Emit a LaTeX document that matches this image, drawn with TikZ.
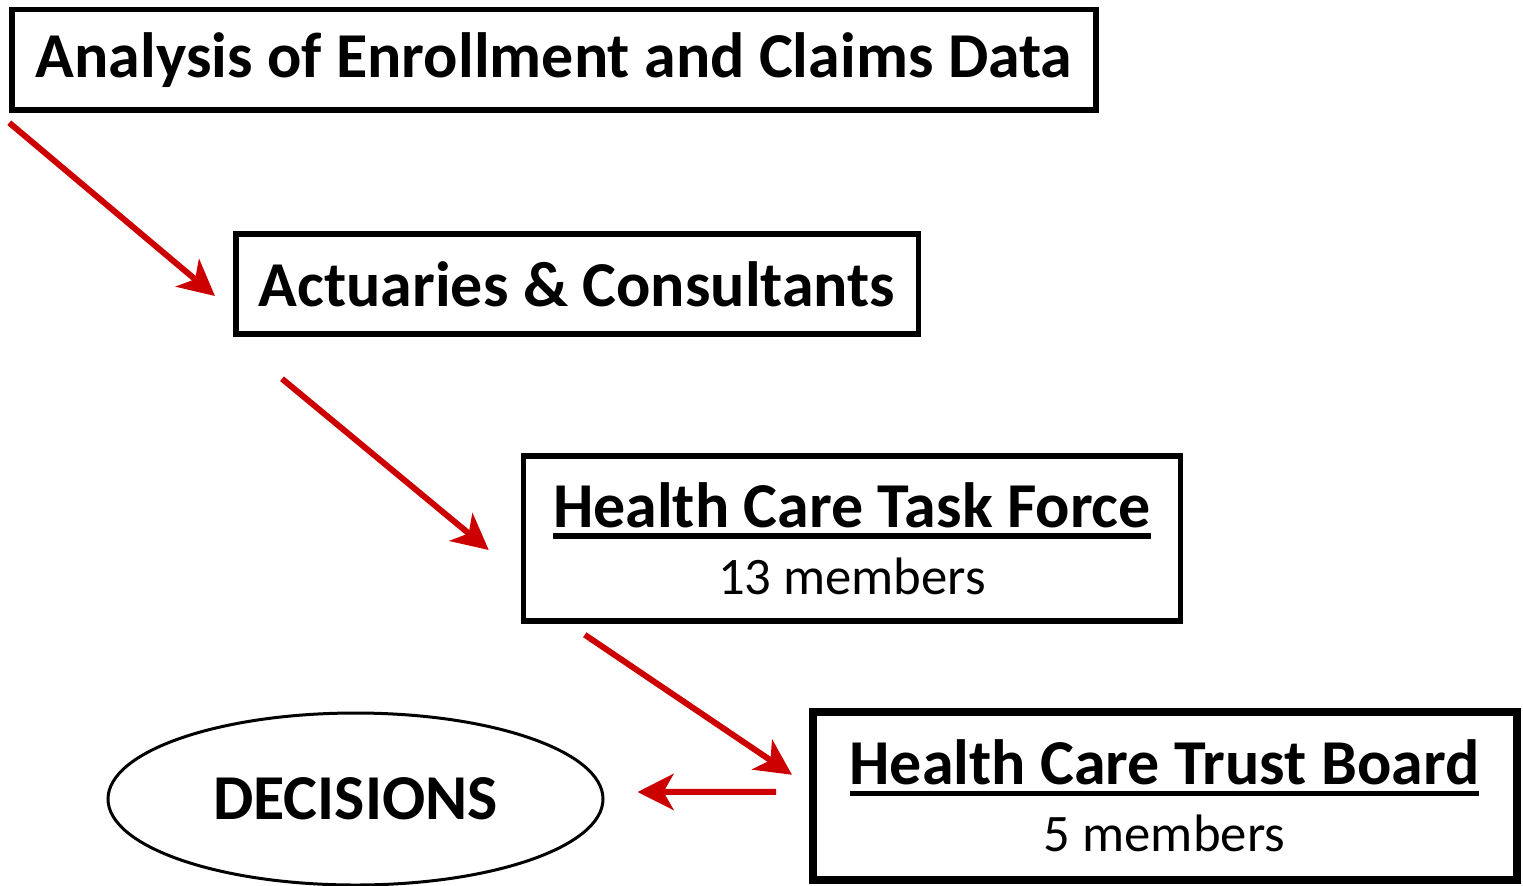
\documentclass[tikz,border=0pt]{standalone}
\usepackage{fontspec}
\setmainfont{Carlito}
\usetikzlibrary{arrows.meta,shapes.geometric,positioning}
\definecolor{arrowred}{RGB}{204,0,0}

\newsavebox{\headbox}
\newcommand{\headline}[1]{\sbox{\headbox}{#1}\rlap{\rule[-0.115cm]{\wd\headbox}{0.055cm}}\usebox{\headbox}}
\newcommand{\members}[1]{{\fontsize{15}{0.67cm}\selectfont\mdseries #1}}

\begin{document}
\begin{tikzpicture}[
  box/.style={draw, line width=0.055cm, inner sep=0pt, align=center,
    font=\fontsize{18.2}{0.67cm}\selectfont\bfseries},
  link/.style={arrowred, line width=0.06cm,
    -{Stealth[length=0.36cm,width=0.36cm,inset=0.1cm]}}
]
\useasboundingbox (0,0) rectangle (15.23,-8.85);

% boxes
\node[box, minimum width=10.84cm, minimum height=1.005cm] (data) at (5.54,-0.5975) {Analysis of Enrollment and Claims Data};
\node[box, minimum width=6.825cm, minimum height=1.0cm] (act) at (5.77,-2.84) {Actuaries \& Consultants};
\node[box, minimum width=6.57cm, minimum height=1.65cm] (tf) at (8.52,-5.385) {\headline{Health Care Task Force}\\\members{13 members}};
\node[box, line width=0.08cm, minimum width=7.04cm, minimum height=1.685cm] (board) at (11.645,-7.9575) {\headline{Health Care Trust Board}\\\members{5 members}};

\node[draw, ellipse, line width=0.03cm, inner sep=0pt, minimum width=4.95cm, minimum height=1.72cm,
  font=\fontsize{18.2}{0.67cm}\selectfont\bfseries] (dec) at (3.555,-7.99) {DECISIONS};

% arrows
\draw[link] ([yshift=-0.1cm]data.south west) -- ([shift={(-0.18,-0.12)}]act.west);
\draw[link] ([shift={(0.49,-0.42)}]act.south west) -- ([shift={(-0.32,-0.115)}]tf.west);
\draw[link] ([shift={(0.64,-0.11)}]tf.south west) -- ([shift={(-0.165,0.21)}]board.west);
\draw[link] ([shift={(-0.325,0.04)}]board.west) -- ([shift={(0.33,0.07)}]dec.east);
\end{tikzpicture}
\end{document}
